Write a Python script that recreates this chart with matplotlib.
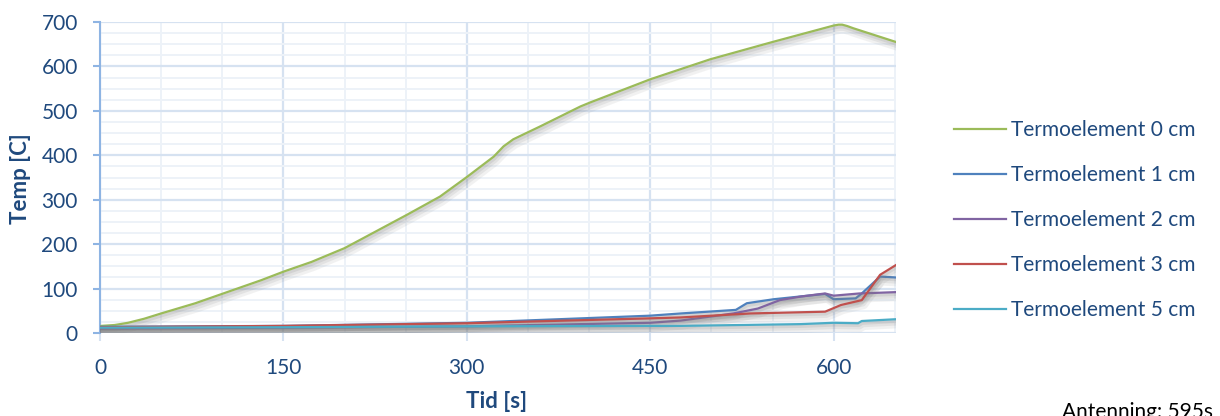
import matplotlib
matplotlib.use("Agg")
import matplotlib.pyplot as plt
import matplotlib.patheffects as pe
from matplotlib.ticker import MultipleLocator

plt.rcParams['font.family'] = ['Lato', 'DejaVu Sans']

# Thermocouple readings (time in seconds, temperature in C)
t0 = [0, 1, 12, 23, 36, 50, 78, 105, 132, 150, 173, 200, 215, 251, 278, 300, 322, 330, 338,
      360, 393, 401, 450, 499, 550, 600, 604, 607, 611, 616, 651]
temp0 = [15, 16, 18, 23, 32, 44, 67, 93, 119, 138, 160, 191, 213, 266, 307, 351, 397, 420, 436,
         465, 510, 519, 571, 616, 655, 692, 694, 694, 691, 686, 655]

t1 = [0, 150, 300, 450, 475, 520, 529, 551, 593, 600, 618, 623, 638, 651]
temp1 = [14, 16, 23, 39, 44, 52, 67, 76, 88, 76, 78, 89, 127, 125]

t2 = [0, 150, 300, 450, 475, 518, 538, 556, 573, 593, 600, 621, 651]
temp2 = [10, 12, 15, 23, 28, 44, 55, 74, 82, 89, 84, 89, 92]

t3 = [0, 150, 300, 450, 475, 532, 593, 606, 623, 638, 651]
temp3 = [13, 16, 22, 33, 35, 44, 48, 63, 74, 131, 153]

t5 = [0, 150, 300, 450, 475, 573, 600, 620, 623, 651]
temp5 = [12, 13, 15, 16, 16, 20, 23, 22, 27, 31]

series = [
    ("Termoelement 0 cm", t0, temp0, "#9bbb59"),
    ("Termoelement 1 cm", t1, temp1, "#4f81bd"),
    ("Termoelement 2 cm", t2, temp2, "#8064a2"),
    ("Termoelement 3 cm", t3, temp3, "#c0504d"),
    ("Termoelement 5 cm", t5, temp5, "#4bacc6"),
]

x_ticks = [0, 150, 300, 450, 600]
y_ticks = [0, 100, 200, 300, 400, 500, 600, 700]

text_color = "#1f497d"
W, H = 1220, 416

fig = plt.figure(figsize=(W / 100, H / 100), dpi=100)
ax = fig.add_axes([100 / W, 1 - 333 / H, 796 / W, 311 / H])

shadow = [
    pe.SimpleLineShadow(offset=(1.5, -3.5), shadow_color="#7f7f7f", alpha=0.10, linewidth=6),
    pe.SimpleLineShadow(offset=(1.0, -2.5), shadow_color="#7f7f7f", alpha=0.13, linewidth=4),
    pe.SimpleLineShadow(offset=(0.5, -1.5), shadow_color="#7f7f7f", alpha=0.16, linewidth=2.5),
    pe.Normal(),
]

for label, t, y, c in series:
    ax.plot(t, y, color=c, lw=1.6, label=label, path_effects=shadow, zorder=3,
            solid_joinstyle="round")

ax.set_xlim(0, 651)
ax.set_ylim(0, 700)
ax.set_xticks(x_ticks)
ax.set_yticks(y_ticks)
ax.xaxis.set_minor_locator(MultipleLocator(50))
ax.yaxis.set_minor_locator(MultipleLocator(25))

ax.grid(which="major", color="#d6e2f1", lw=1.6, zorder=0)
ax.grid(which="minor", color="#edf2f8", lw=1.4, zorder=0)
ax.set_axisbelow(True)

for s in ["top", "right", "bottom"]:
    ax.spines[s].set_visible(False)
ax.spines["left"].set_color("#8eb4e3")
ax.spines["left"].set_linewidth(1.5)

ax.tick_params(axis="y", which="major", length=5, width=1.5, color="#8eb4e3",
               labelsize=15, labelcolor=text_color, pad=11)
ax.tick_params(axis="x", which="major", length=6, width=1.5, color="#d6e2f1",
               labelsize=15, labelcolor=text_color, pad=12)
ax.tick_params(which="minor", length=0)

fig.text(497 / W, 1 - 402 / H, "Tid [s]", fontsize=16, fontweight="bold",
         color=text_color, ha="center", va="center")
fig.text(21 / W, 1 - 179 / H, "Temp [C]", fontsize=16, fontweight="bold",
         color=text_color, ha="center", va="center", rotation=90)

leg = fig.legend(loc="center left", bbox_to_anchor=(954 / W, 1 - 220 / H), frameon=False,
                 fontsize=15, handlelength=2.5, handletextpad=0.25, labelspacing=1.2,
                 borderpad=0, borderaxespad=0, labelcolor=text_color)
for line in leg.get_lines():
    line.set_linewidth(1.6)
    line.set_path_effects([])

fig.text(1062 / W, 1 - 402 / H, "Antenning: 595s", fontsize=15, color="black",
         ha="left", va="top")

fig.savefig("out.png", dpi=100)
